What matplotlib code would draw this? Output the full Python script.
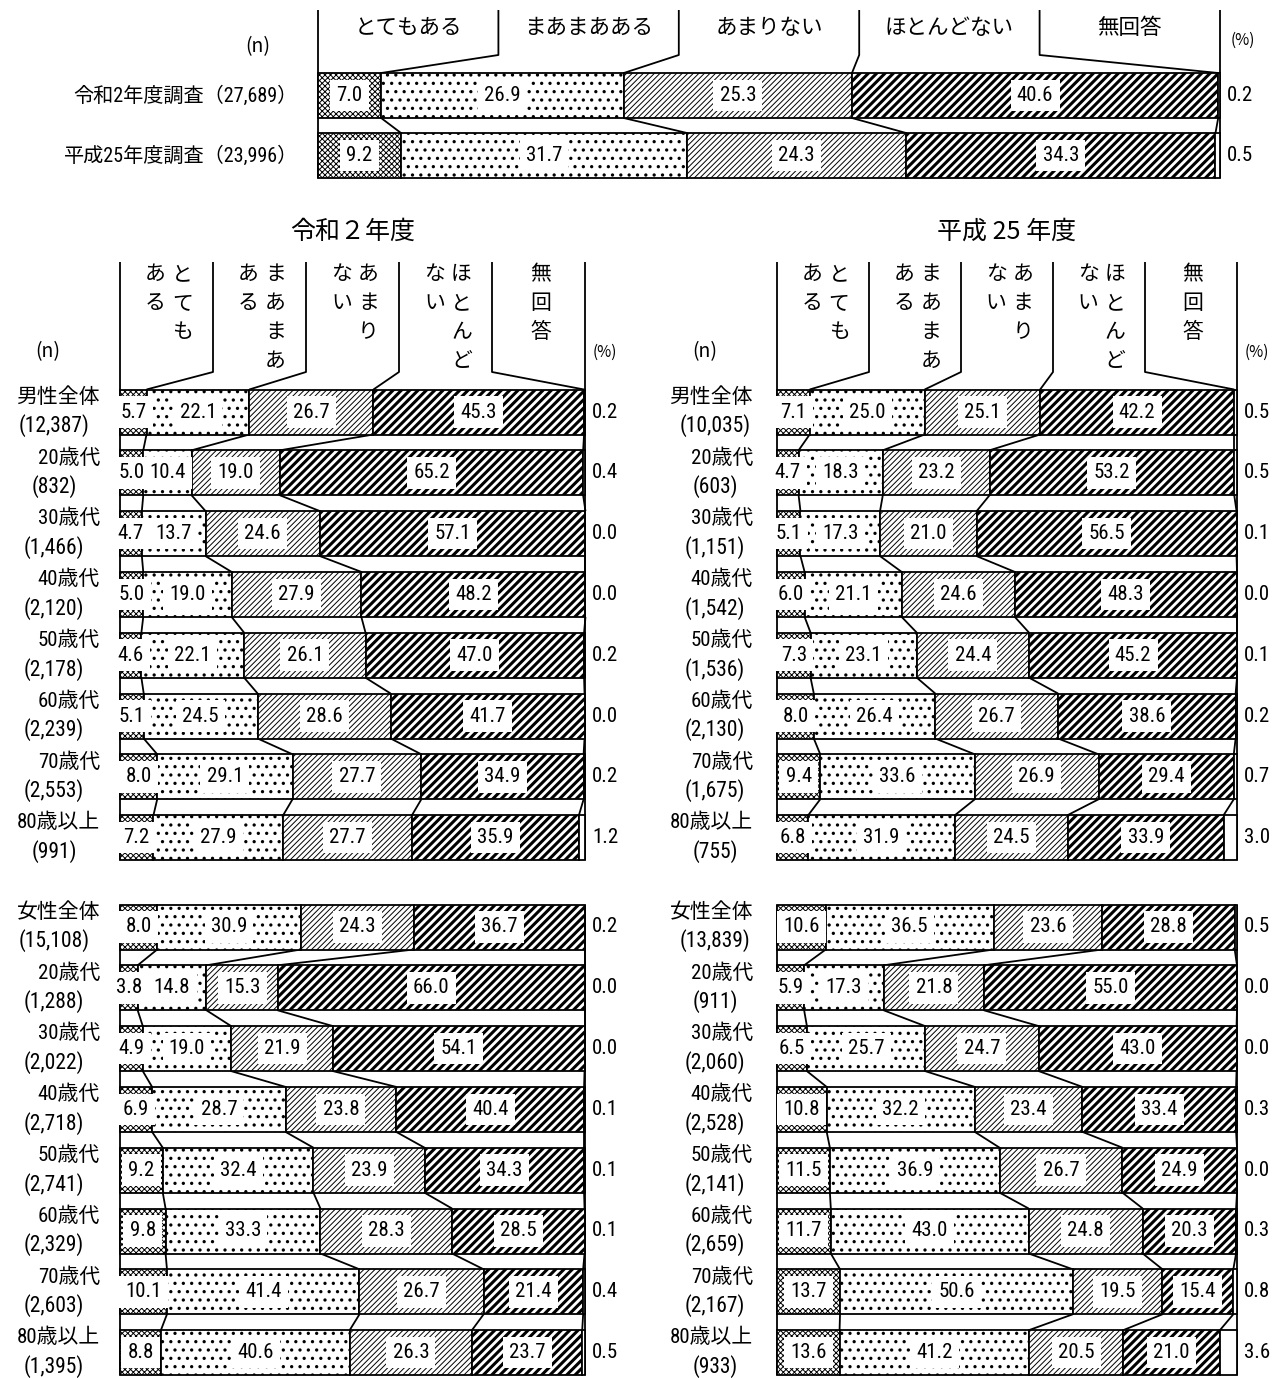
import numpy as np
import matplotlib
matplotlib.use("Agg")
import matplotlib.pyplot as plt
from matplotlib import font_manager

# ---------------------------------------------------------------- data
categories = ["とてもある", "まあまあある", "あまりない", "ほとんどない", "無回答"]
# vertical header columns, listed right column first
category_columns = [["とても", "ある"], ["まあまあ", "ある"], ["あまり", "ない"],
                    ["ほとんど", "ない"], ["無回答"]]

survey_labels = ["令和2年度調査（27,689）", "平成25年度調査（23,996）"]
survey_values = [
    [7.0, 26.9, 25.3, 40.6, 0.2],
    [9.2, 31.7, 24.3, 34.3, 0.5],
]

age_groups = ["20歳代", "30歳代", "40歳代", "50歳代", "60歳代", "70歳代", "80歳以上"]
male_labels = ["男性全体"] + age_groups
female_labels = ["女性全体"] + age_groups

r2_male_n = ["12,387", "832", "1,466", "2,120", "2,178", "2,239", "2,553", "991"]
r2_male = [
    [5.7, 22.1, 26.7, 45.3, 0.2],
    [5.0, 10.4, 19.0, 65.2, 0.4],
    [4.7, 13.7, 24.6, 57.1, 0.0],
    [5.0, 19.0, 27.9, 48.2, 0.0],
    [4.6, 22.1, 26.1, 47.0, 0.2],
    [5.1, 24.5, 28.6, 41.7, 0.0],
    [8.0, 29.1, 27.7, 34.9, 0.2],
    [7.2, 27.9, 27.7, 35.9, 1.2],
]
r2_female_n = ["15,108", "1,288", "2,022", "2,718", "2,741", "2,329", "2,603", "1,395"]
r2_female = [
    [8.0, 30.9, 24.3, 36.7, 0.2],
    [3.8, 14.8, 15.3, 66.0, 0.0],
    [4.9, 19.0, 21.9, 54.1, 0.0],
    [6.9, 28.7, 23.8, 40.4, 0.1],
    [9.2, 32.4, 23.9, 34.3, 0.1],
    [9.8, 33.3, 28.3, 28.5, 0.1],
    [10.1, 41.4, 26.7, 21.4, 0.4],
    [8.8, 40.6, 26.3, 23.7, 0.5],
]
h25_male_n = ["10,035", "603", "1,151", "1,542", "1,536", "2,130", "1,675", "755"]
h25_male = [
    [7.1, 25.0, 25.1, 42.2, 0.5],
    [4.7, 18.3, 23.2, 53.2, 0.5],
    [5.1, 17.3, 21.0, 56.5, 0.1],
    [6.0, 21.1, 24.6, 48.3, 0.0],
    [7.3, 23.1, 24.4, 45.2, 0.1],
    [8.0, 26.4, 26.7, 38.6, 0.2],
    [9.4, 33.6, 26.9, 29.4, 0.7],
    [6.8, 31.9, 24.5, 33.9, 3.0],
]
h25_female_n = ["13,839", "911", "2,060", "2,528", "2,141", "2,659", "2,167", "933"]
h25_female = [
    [10.6, 36.5, 23.6, 28.8, 0.5],
    [5.9, 17.3, 21.8, 55.0, 0.0],
    [6.5, 25.7, 24.7, 43.0, 0.0],
    [10.8, 32.2, 23.4, 33.4, 0.3],
    [11.5, 36.9, 26.7, 24.9, 0.0],
    [11.7, 43.0, 24.8, 20.3, 0.3],
    [13.7, 50.6, 19.5, 15.4, 0.8],
    [13.6, 41.2, 20.5, 21.0, 3.6],
]

# ---------------------------------------------------------------- styles
W, H = 1284, 1378
installed = {f.name for f in font_manager.fontManager.ttflist}
NARROW = next((f for f in ["Liberation Sans Narrow", "Roboto Condensed",
                           "Arial Narrow", "Liberation Sans"] if f in installed),
              "DejaVu Sans")
JP = ["Noto Sans CJK JP", "DejaVu Sans"]
MIX = [NARROW, "Noto Sans CJK JP", "DejaVu Sans"]
NUM = [NARROW, "DejaVu Sans"]
NUM_SIZE = 15 if "Narrow" in NARROW or "Condensed" in NARROW else 14

plt.rcParams["font.family"] = JP

# fill pattern per answer category
patterns = [
    dict(hatch="xxxxxx", hlw=0.7),
    dict(hatch="..", hlw=1.15),
    dict(hatch="//////", hlw=0.7),
    dict(hatch="////", hlw=2.2),
    dict(hatch="", hlw=0.5),
]
EDGE_LW = 1.3
BAR_H = 45

fig = plt.figure(figsize=(W / 100, H / 100), dpi=100)
base = fig.add_axes([0, 0, 1, 1])
base.set_xlim(0, W)
base.set_ylim(H, 0)
base.axis("off")


def panel_axes(x0, x1):
    ax = fig.add_axes([x0 / W, 0, (x1 - x0) / W, 1])
    ax.set_xlim(0, 100)
    ax.set_ylim(H, 0)
    ax.axis("off")
    return ax


def line(ax, xs, ys):
    ax.plot(xs, ys, color="black", lw=EDGE_LW, solid_capstyle="butt",
            clip_on=False, zorder=1)


def draw_block(ax, ys, values, x1px, header=None, frame_top=None):
    values = np.asarray(values, dtype=float)
    ys = np.asarray(ys, dtype=float)
    lefts = np.zeros(len(values))
    for k, st in enumerate(patterns):
        bars = ax.barh(ys, values[:, k], left=lefts, height=BAR_H,
                       color="white", edgecolor="black", linewidth=EDGE_LW,
                       hatch=st["hatch"] or None, zorder=2)
        for b in bars:
            b.set_clip_on(False)
            if hasattr(b, "set_hatch_linewidth"):
                b.set_hatch_linewidth(st["hlw"])
        if k < 4:
            for y, l, v in zip(ys, lefts, values[:, k]):
                ax.text(l + v / 2, y, f"{v:.1f}", ha="center", va="center",
                        fontsize=NUM_SIZE, family=NUM, zorder=4,
                        bbox=dict(boxstyle="square,pad=0.3", fc="white", ec="none"))
        lefts = lefts + values[:, k]
    cum = np.cumsum(values, axis=1)
    tops = ys - BAR_H / 2
    bottoms = ys + BAR_H / 2
    # connectors between neighbouring bars
    for i in range(len(values) - 1):
        for k in range(4):
            line(ax, [cum[i, k], cum[i + 1, k]], [bottoms[i], tops[i + 1]])
    # outer frame
    ftop = frame_top if frame_top is not None else tops[0]
    line(ax, [0, 0], [ftop, bottoms[-1]])
    line(ax, [100, 100], [ftop, bottoms[-1]])
    # header dividers sloping down to the first bar's boundaries
    if header is not None:
        h_top, h_bot = header
        for k in range(4):
            xd = 20 * (k + 1)
            line(ax, [xd, xd, cum[0, k]], [h_top, h_bot, tops[0]])
    # no-answer values on the right
    for y, v in zip(ys, values[:, 4]):
        base.text(x1px + 20, y, f"{v:.1f}", ha="center", va="center",
                  fontsize=NUM_SIZE, family=NUM)


def row_labels(ys, names, ns, right_x, center_x):
    for y, name, n in zip(ys, names, ns):
        base.text(right_x, y - 15, name, ha="right", va="center",
                  fontsize=15, family=MIX)
        base.text(center_x, y + 14, f"({n})", ha="center", va="center",
                  fontsize=15.5, family=MIX)


def vertical_headers(x0, x1, y_first, step):
    width = x1 - x0
    for k, cols in enumerate(category_columns):
        cx = x0 + width * (0.2 * k + 0.1)
        if len(cols) == 1:
            offsets = [0]
        else:
            offsets = [14, -13]
        for off, word in zip(offsets, cols):
            for j, ch in enumerate(word):
                base.text(cx + off + 2, y_first + j * step, ch, ha="center",
                          va="center", fontsize=15, family=JP)


# ---------------------------------------------------------------- top comparison
TX0, TX1 = 318, 1220
top_ax = panel_axes(TX0, TX1)
top_rows = [95.5, 155.5]
draw_block(top_ax, top_rows, survey_values, TX1, header=(10, 55), frame_top=10)
for k, name in enumerate(categories):
    base.text(TX0 + (TX1 - TX0) * (0.2 * k + 0.1), 28, name, ha="center",
              va="center", fontsize=15.5, family=JP)
for y, lab in zip(top_rows, survey_labels):
    base.text(298, y, lab, ha="right", va="center", fontsize=14.5, family=MIX)
base.text(258, 47, "(n)", ha="center", va="center", fontsize=14, family=JP)
base.text(1243, 40, "(%)", ha="center", va="center", fontsize=11, family=JP)

# ---------------------------------------------------------------- age breakdowns
STEP = 60.8
male_rows = 412 + STEP * np.arange(8)
female_rows = 927 + STEP * np.arange(8)

panels = [
    ("令和２年度", 120, 585, r2_male, r2_male_n, r2_female, r2_female_n, 100, 54),
    ("平成 25 年度", 777, 1237, h25_male, h25_male_n, h25_female, h25_female_n, 753, 715),
]
for title, x0, x1, mv, mn, fv, fn, lab_r, lab_c in panels:
    ax = panel_axes(x0, x1)
    draw_block(ax, male_rows, mv, x1, header=(262, 372), frame_top=262)
    draw_block(ax, female_rows, fv, x1)
    base.text((x0 + x1) / 2, 232, title, ha="center", va="center",
              fontsize=18, family=JP)
    vertical_headers(x0, x1, 274, 29)
    row_labels(male_rows, male_labels, mn, lab_r, lab_c)
    row_labels(female_rows, female_labels, fn, lab_r, lab_c)
    base.text(x0 - 72, 352, "(n)", ha="center", va="center", fontsize=14, family=JP)
    base.text(x1 + 20, 352, "(%)", ha="center", va="center", fontsize=11, family=JP)

fig.savefig("out.png", dpi=100, facecolor="white")
